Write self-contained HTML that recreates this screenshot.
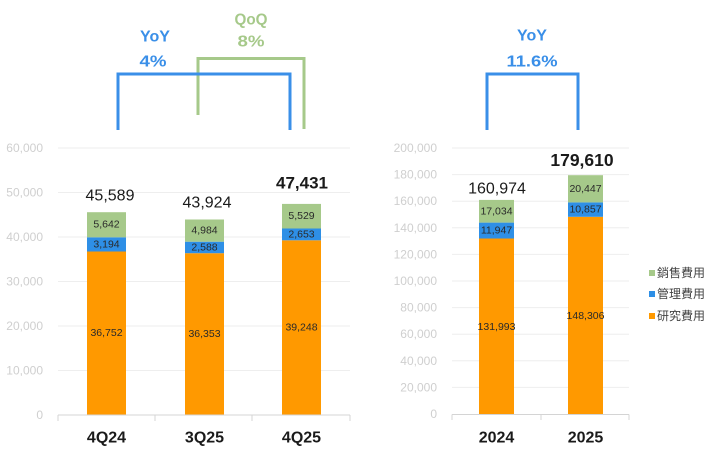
<!DOCTYPE html>
<html><head><meta charset="utf-8"><style>
html,body{margin:0;padding:0;background:#fff;}
svg{display:block;}
text{font-family:"Liberation Sans","Noto Sans CJK TC",sans-serif;}
</style></head><body>
<svg width="719" height="462" viewBox="0 0 719 462" xmlns="http://www.w3.org/2000/svg">
<rect width="719" height="462" fill="#fff"/>
<!-- LEFT CHART gridlines -->
<g stroke="#eeeeee" stroke-width="1">
<line x1="58" y1="148" x2="350" y2="148"/>
<line x1="58" y1="192.5" x2="350" y2="192.5"/>
<line x1="58" y1="237" x2="350" y2="237"/>
<line x1="58" y1="281.5" x2="350" y2="281.5"/>
<line x1="58" y1="326" x2="350" y2="326"/>
<line x1="58" y1="370.5" x2="350" y2="370.5"/>
</g>
<g fill="#cfcfcf" font-size="12" text-anchor="end" dominant-baseline="central">
<text x="43" y="148">60,000</text>
<text x="43" y="192.5">50,000</text>
<text x="43" y="237">40,000</text>
<text x="43" y="281.5">30,000</text>
<text x="43" y="326">20,000</text>
<text x="43" y="370.5">10,000</text>
<text x="43" y="415">0</text>
</g>
<!-- left bars -->
<rect x="87" y="251.5" width="39" height="163.5" fill="#ff9900"/>
<rect x="87" y="237.3" width="39" height="14.2" fill="#2e8fe6"/>
<rect x="87" y="212.2" width="39" height="25.1" fill="#a6c98a"/>
<rect x="185" y="253.2" width="39" height="161.8" fill="#ff9900"/>
<rect x="185" y="241.7" width="39" height="11.5" fill="#2e8fe6"/>
<rect x="185" y="219.5" width="39" height="22.2" fill="#a6c98a"/>
<rect x="282" y="240.3" width="39" height="174.7" fill="#ff9900"/>
<rect x="282" y="228.5" width="39" height="11.8" fill="#2e8fe6"/>
<rect x="282" y="203.9" width="39" height="24.6" fill="#a6c98a"/>
<!-- axis -->
<g stroke="#d4d4d4" stroke-width="1">
<line x1="58" y1="415" x2="350" y2="415"/>
<line x1="58" y1="415" x2="58" y2="421"/>
<line x1="155" y1="415" x2="155" y2="421"/>
<line x1="252" y1="415" x2="252" y2="421"/>
<line x1="350" y1="415" x2="350" y2="421"/>
</g>
<g fill="#2a2a2a" font-size="10.5" text-anchor="middle" dominant-baseline="central">
<text x="106.5" y="333">36,752</text>
<text x="106.5" y="244.4">3,194</text>
<text x="106.5" y="224.7">5,642</text>
<text x="204.5" y="334">36,353</text>
<text x="204.5" y="247.5">2,588</text>
<text x="204.5" y="230.6">4,984</text>
<text x="301.5" y="327.5">39,248</text>
<text x="301.5" y="234.4">2,653</text>
<text x="301.5" y="216.2">5,529</text>
</g>
<g fill="#1a1a1a" font-size="16" text-anchor="middle" dominant-baseline="central">
<text x="110" y="196">45,589</text>
<text x="207" y="203">43,924</text>
<text x="302" y="183" font-weight="bold" font-size="17">47,431</text>
</g>
<g fill="#1a1a1a" font-size="16" font-weight="bold" text-anchor="middle" dominant-baseline="central">
<text x="106.5" y="438">4Q24</text>
<text x="204.5" y="438">3Q25</text>
<text x="301.5" y="438">4Q25</text>
</g>
<!-- brackets left -->
<polyline points="198,115 198,58.5 304,58.5 304,129" fill="none" stroke="#a6c98a" stroke-width="3"/>
<polyline points="118,130 118,74 290,74 290,130" fill="none" stroke="#3a8fe8" stroke-width="3"/>
<g font-size="16" font-weight="bold" text-anchor="middle" dominant-baseline="central">
<text x="155" y="37" fill="#3a8fe8" textLength="30" lengthAdjust="spacingAndGlyphs">YoY</text>
<text x="153" y="62" fill="#3a8fe8" textLength="27" lengthAdjust="spacingAndGlyphs">4%</text>
<text x="251" y="20" fill="#a6c98a" textLength="33" lengthAdjust="spacingAndGlyphs">QoQ</text>
<text x="251" y="42" fill="#a6c98a" textLength="27" lengthAdjust="spacingAndGlyphs">8%</text>
</g>
<!-- RIGHT CHART -->
<g stroke="#eeeeee" stroke-width="1">
<line x1="452" y1="148" x2="629" y2="148"/>
<line x1="452" y1="174.6" x2="629" y2="174.6"/>
<line x1="452" y1="201.2" x2="629" y2="201.2"/>
<line x1="452" y1="227.8" x2="629" y2="227.8"/>
<line x1="452" y1="254.4" x2="629" y2="254.4"/>
<line x1="452" y1="281" x2="629" y2="281"/>
<line x1="452" y1="307.6" x2="629" y2="307.6"/>
<line x1="452" y1="334.2" x2="629" y2="334.2"/>
<line x1="452" y1="360.8" x2="629" y2="360.8"/>
<line x1="452" y1="387.4" x2="629" y2="387.4"/>
</g>
<g fill="#cfcfcf" font-size="12" text-anchor="end" dominant-baseline="central">
<text x="437" y="148">200,000</text>
<text x="437" y="174.6">180,000</text>
<text x="437" y="201.2">160,000</text>
<text x="437" y="227.8">140,000</text>
<text x="437" y="254.4">120,000</text>
<text x="437" y="281">100,000</text>
<text x="437" y="307.6">80,000</text>
<text x="437" y="334.2">60,000</text>
<text x="437" y="360.8">40,000</text>
<text x="437" y="387.4">20,000</text>
<text x="437" y="414">0</text>
</g>
<rect x="479" y="238.5" width="35" height="175.5" fill="#ff9900"/>
<rect x="479" y="222.6" width="35" height="15.9" fill="#2e8fe6"/>
<rect x="479" y="199.9" width="35" height="22.7" fill="#a6c98a"/>
<rect x="568" y="216.8" width="35" height="197.2" fill="#ff9900"/>
<rect x="568" y="202.4" width="35" height="14.4" fill="#2e8fe6"/>
<rect x="568" y="175.2" width="35" height="27.2" fill="#a6c98a"/>
<g stroke="#d4d4d4" stroke-width="1">
<line x1="452" y1="414.5" x2="629" y2="414.5"/>
<line x1="452" y1="414.5" x2="452" y2="420"/>
<line x1="541" y1="414.5" x2="541" y2="420"/>
<line x1="629" y1="414.5" x2="629" y2="420"/>
</g>
<g fill="#2a2a2a" font-size="10.5" text-anchor="middle" dominant-baseline="central">
<text x="496.5" y="327">131,993</text>
<text x="496.5" y="230.6">11,947</text>
<text x="496.5" y="211.3">17,034</text>
<text x="585.5" y="316">148,306</text>
<text x="585.5" y="209.6">10,857</text>
<text x="585.5" y="188.8">20,447</text>
</g>
<g fill="#1a1a1a" text-anchor="middle" dominant-baseline="central">
<text x="497" y="189" font-size="16">160,974</text>
<text x="582" y="160" font-size="17.5" font-weight="bold">179,610</text>
</g>
<g fill="#1a1a1a" font-size="16" font-weight="bold" text-anchor="middle" dominant-baseline="central">
<text x="496.5" y="438">2024</text>
<text x="585.5" y="438">2025</text>
</g>
<polyline points="487,130 487,74 578,74 578,130" fill="none" stroke="#3a8fe8" stroke-width="3"/>
<g font-size="16" font-weight="bold" text-anchor="middle" dominant-baseline="central" fill="#3a8fe8">
<text x="532" y="36" textLength="30" lengthAdjust="spacingAndGlyphs">YoY</text>
<text x="532" y="62" textLength="51" lengthAdjust="spacingAndGlyphs">11.6%</text>
</g>
<!-- legend -->
<rect x="649" y="270" width="6" height="6" fill="#a6c98a"/>
<rect x="649" y="291" width="6" height="6" fill="#2e8fe6"/>
<rect x="649" y="313" width="6" height="6" fill="#ff9900"/>
<g fill="#444" font-size="12" dominant-baseline="central">
<text x="657" y="273">銷售費用</text>
<text x="657" y="294">管理費用</text>
<text x="657" y="316">研究費用</text>
</g>
</svg>
</body></html>
